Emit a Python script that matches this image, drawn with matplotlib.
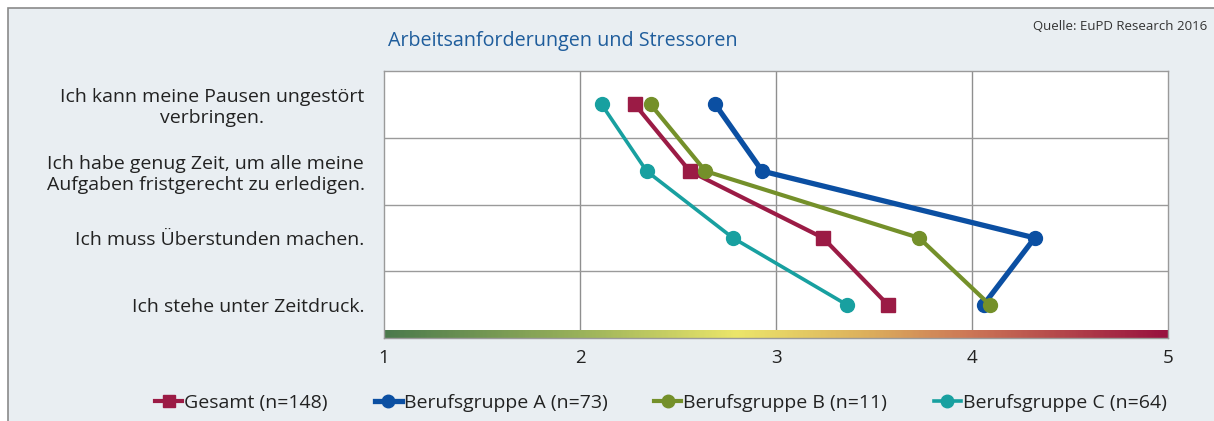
import numpy as np
import matplotlib.pyplot as plt
from matplotlib.colors import LinearSegmentedColormap
from matplotlib.patches import Rectangle

categories = [
    "Ich kann meine Pausen ungestört\nverbringen.",
    "Ich habe genug Zeit, um alle meine\nAufgaben fristgerecht zu erledigen.",
    "Ich muss Überstunden machen.",
    "Ich stehe unter Zeitdruck.",
]
gesamt = [2.28, 2.56, 3.24, 3.57]
gruppe_a = [2.69, 2.93, 4.32, 4.06]
gruppe_b = [2.36, 2.64, 3.73, 4.09]
gruppe_c = [2.11, 2.34, 2.78, 3.36]
series_names = ["Gesamt (n=148)", "Berufsgruppe A (n=73)",
                "Berufsgruppe B (n=11)", "Berufsgruppe C (n=64)"]
x_ticks = [1, 2, 3, 4, 5]

bg = "#e9eef2"
plt.rcParams['font.family'] = ['Open Sans', 'DejaVu Sans']

fig = plt.figure(figsize=(12.14, 4.21), dpi=100)
fig.patch.set_facecolor("white")
# panel background with border
fig.patches.append(Rectangle((8 / 1214, -0.01), 1.0, 1 - 8 / 421 + 0.01,
                             transform=fig.transFigure, facecolor=bg,
                             edgecolor="#8a8a8a", linewidth=1.2, zorder=-5))

ax = fig.add_axes([384 / 1214, 83 / 421, 784 / 1214, 267 / 421])
ax.set_facecolor("white")
ax.set_xlim(1, 5)
ax.set_ylim(3.5, -0.5)

# gradient bar at the bottom
cmap = LinearSegmentedColormap.from_list("scale", [
    (0.0, "#4b7a4c"), (0.25, "#9ab25a"), (0.45, "#ece66a"),
    (0.62, "#dcae5c"), (0.75, "#cc7656"), (1.0, "#98103e")])
grad = np.linspace(0, 1, 400).reshape(1, -1)
ax.imshow(grad, cmap=cmap, extent=[1, 5, 3.5, 3.39], aspect="auto", zorder=1)

for x in [2, 3, 4]:
    ax.axvline(x, color="#8f8f8f", lw=1, zorder=0.5)
for y in [0.5, 1.5, 2.5]:
    ax.axhline(y, color="#9a9a9a", lw=1, zorder=0.5)

rows = np.arange(len(categories))
styles = [
    (gesamt, "#9b1b45", "s", 10, 3.0),
    (gruppe_a, "#0b4fa2", "o", 10, 3.8),
    (gruppe_b, "#74902a", "o", 10, 3.0),
    (gruppe_c, "#18a0a0", "o", 10, 2.6),
]
handles = []
for (vals, col, mk, ms, lw), name in zip(styles, series_names):
    h, = ax.plot(vals, rows, color=col, marker=mk, markersize=ms, lw=lw,
                 label=name, zorder=3)
    handles.append(h)

ax.set_xticks(x_ticks)
ax.set_xticklabels([str(t) for t in x_ticks], fontsize=13.5, color="#222222")
ax.tick_params(axis="x", length=0, pad=8)
ax.set_yticks(rows)
ax.set_yticklabels(categories, fontsize=14, color="#222222", multialignment="center")
ax.tick_params(axis="y", length=0, pad=14)
for s in ax.spines.values():
    s.set_color("#9a9a9a")
    s.set_linewidth(1)

fig.text(388 / 1214, 1 - 41 / 421, "Arbeitsanforderungen und Stressoren",
         fontsize=14.2, color="#1f5d9c", ha="left", va="center")
fig.text(1207 / 1214, 1 - 27 / 421, "Quelle: EuPD Research 2016",
         fontsize=9.5, color="#333333", ha="right", va="center")

leg = fig.legend(handles=handles, loc="center", bbox_to_anchor=(661 / 1214, 1 - 403 / 421),
                 ncol=4, frameon=False, fontsize=14, handlelength=1.4,
                 handletextpad=0.1, columnspacing=2.4, markerscale=0.9)
for t in leg.get_texts():
    t.set_color("#222222")

fig.savefig("out.png", dpi=100, facecolor=fig.get_facecolor())
